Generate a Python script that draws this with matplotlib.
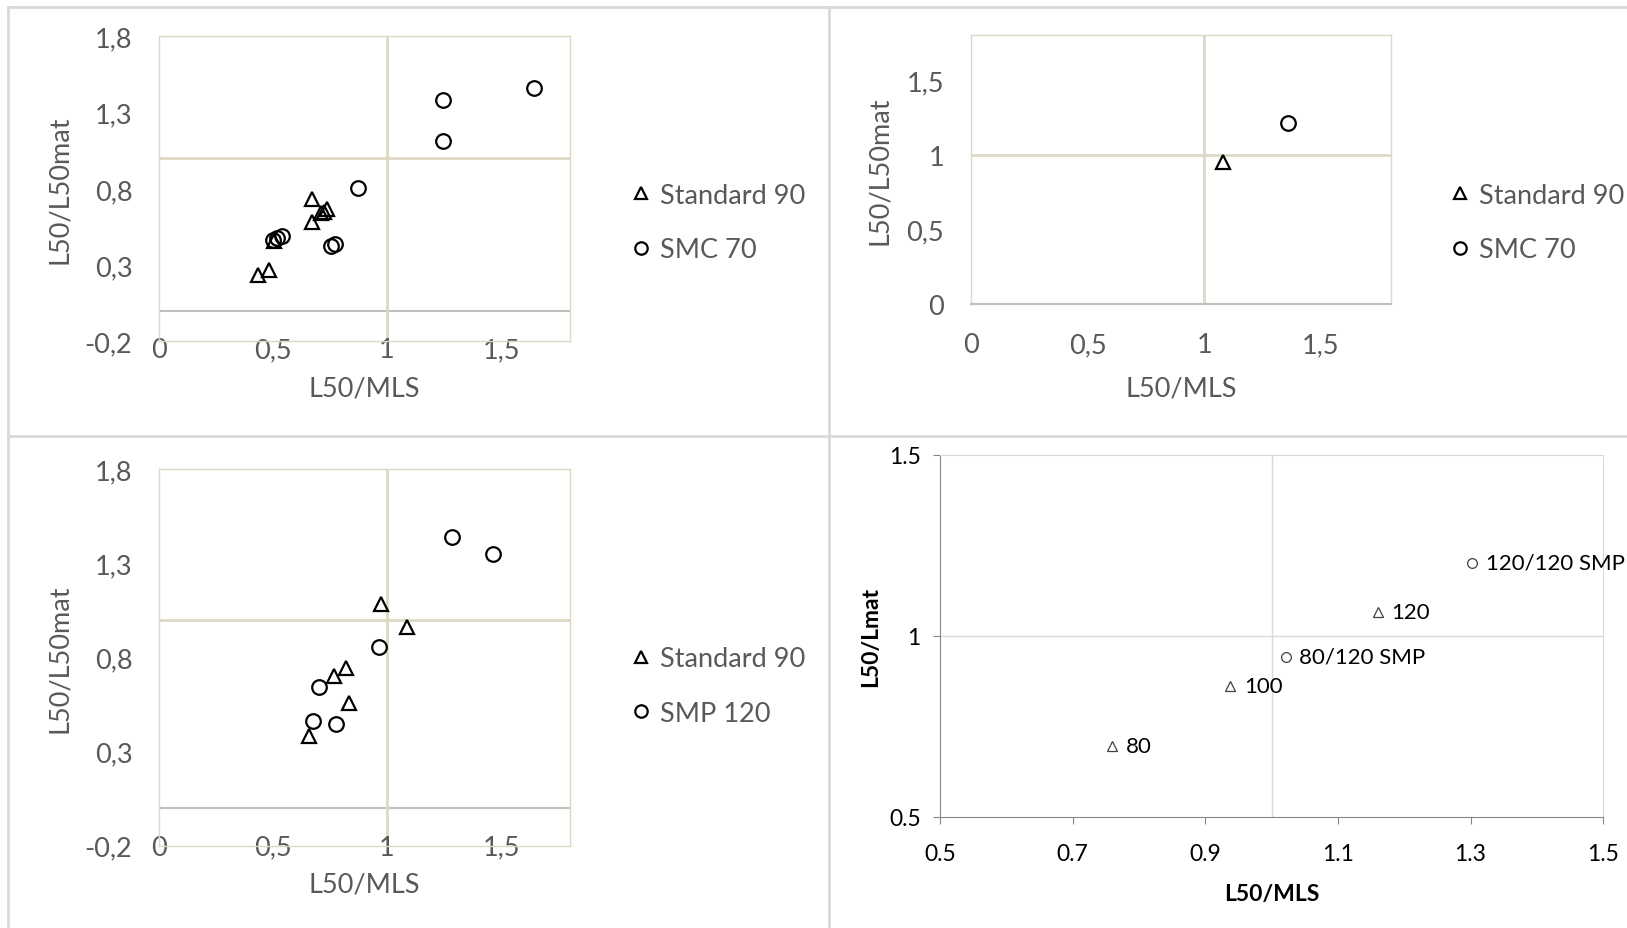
from matplotlib import pyplot as plt
from matplotlib.lines import Line2D
from matplotlib.ticker import FuncFormatter

plt.rcParams['font.family'] = ['Lato', 'DejaVu Sans']

W, H = 1627, 929

# top left panel: Standard 90 vs SMC 70
tl_std_x = [0.436, 0.483, 0.506, 0.671, 0.672, 0.712, 0.722, 0.735]
tl_std_y = [0.237, 0.268, 0.460, 0.585, 0.733, 0.640, 0.650, 0.668]
tl_smc_x = [0.500, 0.516, 0.541, 0.753, 0.772, 0.874, 1.246, 1.246, 1.643]
tl_smc_y = [0.465, 0.476, 0.489, 0.427, 0.438, 0.805, 1.116, 1.385, 1.459]

# top right panel: Standard 90 vs SMC 70
tr_std_x = [1.082]
tr_std_y = [0.953]
tr_smc_x = [1.358]
tr_smc_y = [1.209]

# bottom left panel: Standard 90 vs SMP 120
bl_std_x = [0.659, 0.769, 0.819, 0.833, 0.972, 1.086]
bl_std_y = [0.384, 0.699, 0.742, 0.557, 1.083, 0.959]
bl_smp_x = [0.677, 0.702, 0.776, 0.964, 1.283, 1.465]
bl_smp_y = [0.463, 0.641, 0.446, 0.856, 1.437, 1.349]

# bottom right panel: mesh sizes and SMP combinations
br_mesh_names = ['80', '100', '120']
br_mesh_x = [0.759, 0.937, 1.160]
br_mesh_y = [0.696, 0.862, 1.064]
br_smp_names = ['80/120 SMP', '120/120 SMP']
br_smp_x = [1.021, 1.303]
br_smp_y = [0.942, 1.201]

yticks_wide = [-0.2, 0.3, 0.8, 1.3, 1.8]
yticks_tr = [0, 0.5, 1, 1.5]
xticks_half = [0, 0.5, 1, 1.5]
br_xticks = [0.5, 0.7, 0.9, 1.1, 1.3, 1.5]
br_yticks = [0.5, 1, 1.5]

text_color = '#595959'
quad_color = '#ddd8c4'
zero_color = '#bfbfbf'
panel_color = '#d9d9d9'
fs = 19.5


def comma(v, pos=None):
    return f'{v:g}'.replace('.', ',')


def px_axes(fig, x0, y0, x1, y1):
    # box in pixels, measured from the top-left corner
    return fig.add_axes([x0 / W, 1 - y1 / H, (x1 - x0) / W, (y1 - y0) / H])


def quadrant_panel(fig, box, ylim, yticks, xpad, ypad, std, other, other_name,
                   legend_at, xlabel_y, ylabel_x):
    ax = px_axes(fig, *box)
    ax.set_xlim(0, 1.8)
    ax.set_ylim(*ylim)
    for s in ax.spines.values():
        s.set_color(quad_color)
        s.set_linewidth(1)
    if ylim[0] == 0:
        ax.spines['bottom'].set_color(zero_color)
        ax.spines['bottom'].set_linewidth(1.5)
    else:
        ax.axhline(0, color=zero_color, lw=1.5, zorder=1)
    ax.axhline(1, color=quad_color, lw=2, zorder=1)
    ax.axvline(1, color=quad_color, lw=2, zorder=1)

    ax.plot(std[0], std[1], '^', ms=10.5, mfc='none', mec='black', mew=1.6,
            ls='none', label='Standard 90', zorder=3)
    ax.plot(other[0], other[1], 'o', ms=10.5, mfc='none', mec='black', mew=1.6,
            ls='none', label=other_name, zorder=3)

    ax.set_xticks(xticks_half)
    ax.set_yticks(yticks)
    ax.xaxis.set_major_formatter(FuncFormatter(comma))
    ax.yaxis.set_major_formatter(FuncFormatter(comma))
    ax.tick_params(axis='x', length=0, pad=xpad, labelsize=fs, labelcolor=text_color)
    ax.tick_params(axis='y', length=0, pad=ypad, labelsize=fs, labelcolor=text_color)

    ax.set_xlabel('L50/MLS', fontsize=fs, color=text_color)
    ax.set_ylabel('L50/L50mat', fontsize=fs, color=text_color)
    ax.xaxis.set_label_coords(0.5, xlabel_y)
    ax.yaxis.set_label_coords(ylabel_x, 0.5)

    ax.legend(loc='center left', bbox_to_anchor=(legend_at[0] / W, 1 - legend_at[1] / H),
              bbox_transform=fig.transFigure, frameon=False, fontsize=fs,
              labelcolor=text_color, handlelength=0.8, handletextpad=0.3,
              borderpad=0, borderaxespad=0, labelspacing=1.1, markerscale=0.85)
    return ax


fig = plt.figure(figsize=(W / 100, H / 100), dpi=100)

# panel frames
frame_lines = [
    ((8, 1627), (8, 8)),
    ((8, 8), (8, 929)),
    ((8, 1627), (437, 437)),
    ((829, 829), (8, 929)),
]
for xs, ys in frame_lines:
    fig.add_artist(Line2D([x / W for x in xs], [1 - y / H for y in ys],
                          transform=fig.transFigure, color=panel_color, lw=2))

quadrant_panel(fig, (158.8, 37.35, 569.7, 342.35), (-0.2, 1.8), yticks_wide, -3, 19,
               (tl_std_x, tl_std_y), (tl_smc_x, tl_smc_y), 'SMC 70',
               (630, 223.5), -0.112, -0.2103)
quadrant_panel(fig, (971.2, 36.2, 1390.6, 305.1), (0, 1.8), yticks_tr, 20, 19.5,
               (tr_std_x, tr_std_y), (tr_smc_x, tr_smc_y), 'SMC 70',
               (1449, 223.5), -0.266, -0.188)
quadrant_panel(fig, (158.8, 470.0, 569.7, 846.7), (-0.2, 1.8), yticks_wide, -8, 19,
               (bl_std_x, bl_std_y), (bl_smp_x, bl_smp_y), 'SMP 120',
               (630, 687), -0.069, -0.2103)

# bottom right: labelled points on plain axes
ax = px_axes(fig, 940.1, 455.5, 1603.1, 817.6)
ax.set_xlim(0.5, 1.5)
ax.set_ylim(0.5, 1.5)
for side in ['left', 'bottom']:
    ax.spines[side].set_color('#868686')
for side in ['top', 'right']:
    ax.spines[side].set_color(panel_color)
ax.axvline(1, color=panel_color, lw=1, zorder=1)
ax.axhline(1, color=panel_color, lw=1, zorder=1)

ax.plot(br_mesh_x, br_mesh_y, '^', ms=7.5, mfc='none', mec='#404040', mew=0.9, ls='none')
ax.plot(br_smp_x, br_smp_y, 'o', ms=7, mfc='none', mec='#404040', mew=0.9, ls='none')
for name, x, y in zip(br_mesh_names + br_smp_names, br_mesh_x + br_smp_x,
                      br_mesh_y + br_smp_y):
    ax.annotate(name, (x, y), xytext=(10, 0), textcoords='offset points',
                va='center', ha='left', fontsize=16, color='black')

ax.set_xticks(br_xticks)
ax.set_yticks(br_yticks)
ax.xaxis.set_major_formatter(FuncFormatter(lambda v, p: f'{v:g}'))
ax.yaxis.set_major_formatter(FuncFormatter(lambda v, p: f'{v:g}'))
ax.tick_params(direction='out', length=5, color='#868686', labelsize=16.5)
ax.tick_params(axis='x', pad=14)
ax.tick_params(axis='y', pad=9)
ax.set_xlabel('L50/MLS', fontsize=16.5, fontweight='bold')
ax.set_ylabel('L50/Lmat', fontsize=16.5, fontweight='bold')
ax.xaxis.set_label_coords(0.5, -0.183)
ax.yaxis.set_label_coords(-0.0893, 0.5)

fig.savefig('out.png', dpi=100)
